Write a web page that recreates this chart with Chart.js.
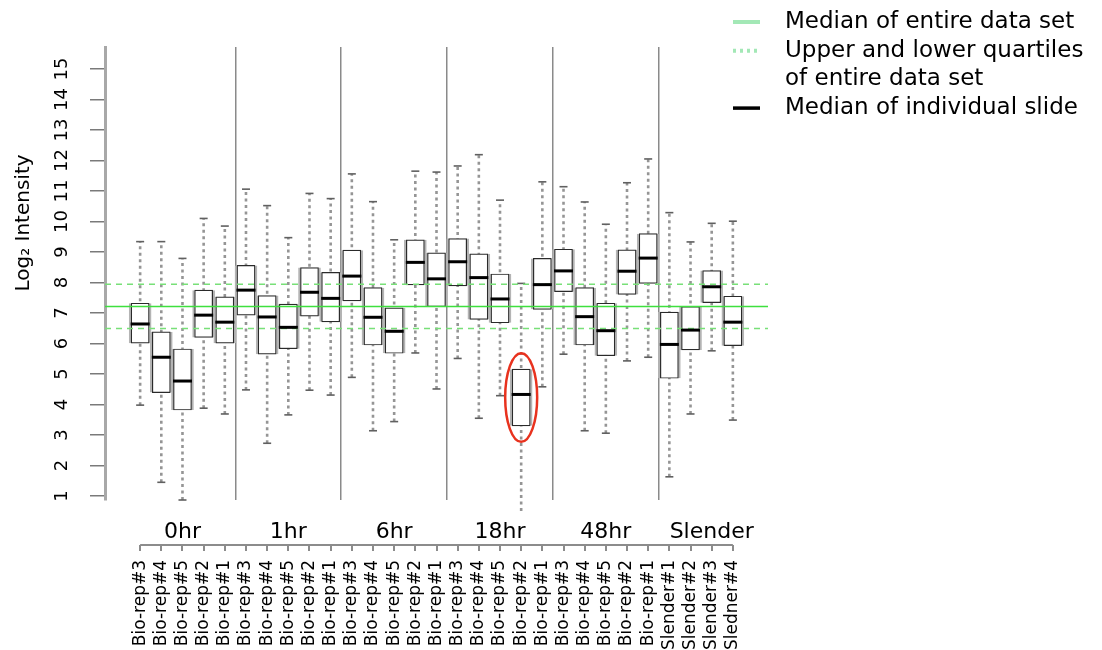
<!DOCTYPE html>
<html>
<head>
<meta charset="utf-8">
<title>Log2 intensity per slide</title>
<script src="https://cdn.jsdelivr.net/npm/chart.js@4.4.1/dist/chart.umd.min.js"></script>
<style>
  html, body { margin: 0; padding: 0; background: #fff; }
  #wrap { width: 1102px; height: 650px; }
</style>
</head>
<body>
<div id="wrap"><canvas id="boxChart"></canvas></div>
<script>
const groups = ["0hr", "1hr", "6hr", "18hr", "48hr", "Slender"];
const groupSizes = [5, 5, 5, 5, 5, 4];

const slides = [
  "Bio-rep#3", "Bio-rep#4", "Bio-rep#5", "Bio-rep#2", "Bio-rep#1",
  "Bio-rep#3", "Bio-rep#4", "Bio-rep#5", "Bio-rep#2", "Bio-rep#1",
  "Bio-rep#3", "Bio-rep#4", "Bio-rep#5", "Bio-rep#2", "Bio-rep#1",
  "Bio-rep#3", "Bio-rep#4", "Bio-rep#5", "Bio-rep#2", "Bio-rep#1",
  "Bio-rep#3", "Bio-rep#4", "Bio-rep#5", "Bio-rep#2", "Bio-rep#1",
  "Slender#1", "Slender#2", "Slender#3", "Sledner#4",
];

// five-number summary of each slide (log2 intensity)
const whiskerLow = [3.98, 1.45, 0.87, 3.88, 3.69, 4.48, 2.73, 3.66, 4.47, 4.31,
  4.89, 3.14, 3.44, 5.69, 4.51, 5.51, 3.55, 4.29, 0.51, 4.58,
  5.65, 3.14, 3.06, 5.43, 5.55, 1.63, 3.69, 5.76, 3.49];
const lowerQuartile = [6.01, 4.39, 3.82, 6.20, 6.01, 6.93, 5.65, 5.83, 6.90, 6.71,
  7.40, 5.95, 5.68, 7.92, 7.21, 7.89, 6.79, 6.68, 3.30, 7.12,
  7.70, 5.95, 5.60, 7.61, 7.97, 4.86, 5.79, 7.34, 5.93];
const medians = [6.64, 5.55, 4.77, 6.93, 6.70, 7.75, 6.87, 6.53, 7.68, 7.48,
  8.21, 6.86, 6.40, 8.66, 8.12, 8.68, 8.16, 7.46, 4.33, 7.93,
  8.38, 6.88, 6.42, 8.37, 8.80, 5.97, 6.44, 7.86, 6.70];
const upperQuartile = [7.32, 6.38, 5.82, 7.75, 7.53, 8.56, 7.57, 7.29, 8.49, 8.33,
  9.06, 7.83, 7.17, 9.40, 8.97, 9.44, 8.94, 8.28, 5.16, 8.79,
  9.09, 7.83, 7.32, 9.07, 9.60, 7.03, 7.21, 8.39, 7.55];
const whiskerHigh = [9.34, 9.34, 8.79, 10.10, 9.85, 11.06, 10.52, 9.47, 10.92, 10.75,
  11.56, 10.65, 9.40, 11.65, 11.62, 11.82, 12.19, 10.70, 7.97, 11.30,
  11.14, 10.64, 9.91, 11.27, 12.05, 10.29, 9.33, 9.94, 10.01];

// whole data set
const overallMedian = 7.21;
const overallQuartiles = [6.49, 7.94];

const yTicks = [1, 2, 3, 4, 5, 6, 7, 8, 9, 10, 11, 12, 13, 14, 15];

// the outlier slide that gets ringed (18hr Bio-rep#2)
const circledSlide = 18;

// axis limits
const X_MIN = -1.66;
const X_MAX = slides.length - 1 + 1.66;
const Y_MIN = 0.87;
const Y_MAX = 15.72;

const groupStarts = groupSizes.map((n, g) =>
  groupSizes.slice(0, g).reduce((a, b) => a + b, 0)
);
const separators = groupStarts.slice(1).map((s) => s - 0.5);
// group names sit over the third slide of each group
const groupLabelAt = groupStarts.map((s) => s + 2);

const idx = slides.map((_, i) => i);

const whiskerPoints = [];
idx.forEach((i) => {
  whiskerPoints.push(
    { x: i, y: whiskerLow[i] },
    { x: i, y: whiskerHigh[i] },
    { x: i, y: null }
  );
});

const boxData = idx.map((i) => ({ x: i, y: [lowerQuartile[i], upperQuartile[i]] }));
const hLine = (v) => [{ x: X_MIN, y: v }, { x: X_MAX, y: v }];

const legendRows = [
  { text: "Median of entire data set", color: "#a3e8b6", width: 4, dash: [] },
  { text: "Upper and lower quartiles", color: "#a3e8b6", width: 4, dash: [3, 4] },
  { text: "of entire data set", color: null },
  { text: "Median of individual slide", color: "#000", width: 3.5, dash: [] },
];

const slideNotes = {
  id: "slideNotes",
  afterDatasetsDraw(chart) {
    const { ctx } = chart;
    const x = chart.scales.x;
    const y = chart.scales.y;
    const top = y.getPixelForValue(upperQuartile[circledSlide]);
    const bottom = y.getPixelForValue(lowerQuartile[circledSlide]);
    ctx.save();
    ctx.strokeStyle = "#e8321e";
    ctx.lineWidth = 2.5;
    ctx.beginPath();
    ctx.ellipse(x.getPixelForValue(circledSlide), (top + bottom) / 2,
      16, (bottom - top) / 2 + 16, 0, 0, Math.PI * 2);
    ctx.stroke();
    ctx.restore();
  },
  afterDraw(chart) {
    const { ctx } = chart;
    const xl = chart.scales.xl;
    const y = chart.scales.y;
    ctx.save();

    // slide axis only runs from first to last slide
    ctx.strokeStyle = "#8c8c8c";
    ctx.lineWidth = 2;
    ctx.beginPath();
    ctx.moveTo(xl.getPixelForValue(0), xl.top);
    ctx.lineTo(xl.getPixelForValue(slides.length - 1), xl.top);
    ctx.stroke();

    // y axis title
    ctx.fillStyle = "#000";
    ctx.font = "20px 'DejaVu Sans', Verdana, sans-serif";
    ctx.textAlign = "center";
    ctx.textBaseline = "middle";
    ctx.translate(24, y.getPixelForValue(9.95));
    ctx.rotate(-Math.PI / 2);
    ctx.fillText("Log\u2082 Intensity", 0, 0);
    ctx.setTransform(1, 0, 0, 1, 0, 0);

    // key, top right
    ctx.font = "23px 'DejaVu Sans', Verdana, sans-serif";
    ctx.textAlign = "left";
    legendRows.forEach((row, r) => {
      const ry = 22 + r * 28.7;
      if (row.color) {
        ctx.strokeStyle = row.color;
        ctx.lineWidth = row.width;
        ctx.setLineDash(row.dash);
        ctx.beginPath();
        ctx.moveTo(733, ry);
        ctx.lineTo(760, ry);
        ctx.stroke();
        ctx.setLineDash([]);
      }
      ctx.fillStyle = "#000";
      ctx.fillText(row.text, 785, ry);
    });
    ctx.restore();
  },
};

Chart.defaults.font.family = "'DejaVu Sans', Verdana, sans-serif";
Chart.defaults.color = "#000";

new Chart(document.getElementById("boxChart"), {
  type: "bar",
  data: {
    datasets: [
      {
        type: "line",
        label: "whiskers",
        data: whiskerPoints,
        borderColor: "#959595",
        borderWidth: 2.6,
        borderDash: [3, 3.5],
        spanGaps: false,
        pointStyle: "line",
        pointRadius: 4,
        pointBorderColor: "#606060",
        pointBorderWidth: 1.6,
        clip: false,
        order: 5,
      },
      {
        label: "box shade",
        data: boxData,
        backgroundColor: "rgba(0,0,0,0)",
        borderColor: "#b4b4b4",
        borderWidth: { left: 2, right: 2, top: 0, bottom: 0 },
        borderSkipped: false,
        barThickness: 22,
        grouped: false,
        order: 4,
      },
      {
        label: "boxes",
        data: boxData,
        backgroundColor: "#fff",
        borderColor: "#2a2a2a",
        borderWidth: 1.2,
        borderSkipped: false,
        barThickness: 18,
        grouped: false,
        order: 3,
      },
      {
        type: "line",
        label: "lower quartile",
        data: hLine(overallQuartiles[0]),
        borderColor: "#78e078",
        borderWidth: 1.5,
        borderDash: [6, 5],
        pointRadius: 0,
        order: 2,
      },
      {
        type: "line",
        label: "upper quartile",
        data: hLine(overallQuartiles[1]),
        borderColor: "#78e078",
        borderWidth: 1.5,
        borderDash: [6, 5],
        pointRadius: 0,
        order: 2,
      },
      {
        type: "line",
        label: "median",
        data: hLine(overallMedian),
        borderColor: "#3ee03e",
        borderWidth: 1.5,
        pointRadius: 0,
        order: 2,
      },
      {
        type: "line",
        label: "slide medians",
        data: idx.map((i) => ({ x: i, y: medians[i] })),
        showLine: false,
        pointStyle: "line",
        pointRadius: 9.5,
        pointBorderWidth: 3,
        pointBorderColor: "#000",
        order: 1,
      },
    ],
  },
  options: {
    responsive: true,
    maintainAspectRatio: false,
    devicePixelRatio: 1,
    animation: false,
    events: [],
    layout: { padding: { left: 0, top: 47, right: 334, bottom: 0 } },
    plugins: {
      legend: { display: false },
      tooltip: { enabled: false },
    },
    scales: {
      x: {
        type: "linear",
        min: X_MIN,
        max: X_MAX,
        offset: false,
        weight: 0,
        grid: { offset: false, color: "#8a8a8a", lineWidth: 1.5, drawTicks: false },
        border: { display: false },
        ticks: { display: false },
        afterBuildTicks: (s) => { s.ticks = separators.map((v) => ({ value: v })); },
        afterFit: (s) => { s.height = 0; },
      },
      xg: {
        type: "linear",
        position: "bottom",
        min: X_MIN,
        max: X_MAX,
        offset: false,
        weight: 1,
        grid: { display: false, drawTicks: false, offset: false },
        border: { display: false },
        ticks: {
          font: { size: 22 },
          color: "#000",
          padding: 19,
          autoSkip: false,
          maxRotation: 0,
          callback: (v, i) => groups[i],
        },
        afterBuildTicks: (s) => { s.ticks = groupLabelAt.map((v) => ({ value: v })); },
        afterFit: (s) => { s.height = 45; },
      },
      xl: {
        type: "linear",
        position: "bottom",
        min: X_MIN,
        max: X_MAX,
        offset: false,
        weight: 2,
        grid: {
          display: true,
          drawOnChartArea: false,
          drawTicks: true,
          tickLength: 6,
          color: "#8c8c8c",
          lineWidth: 2,
          offset: false,
        },
        border: { display: false },
        ticks: {
          font: { size: 17 },
          color: "#000",
          padding: 9,
          autoSkip: false,
          minRotation: 90,
          maxRotation: 90,
          callback: (v, i) => slides[i],
        },
        afterBuildTicks: (s) => { s.ticks = idx.map((v) => ({ value: v })); },
        afterFit: (s) => { s.height = 105; },
      },
      y: {
        type: "linear",
        min: Y_MIN,
        max: Y_MAX,
        beginAtZero: false,
        grid: {
          drawOnChartArea: false,
          drawTicks: true,
          tickLength: 15,
          color: "#7a7a7a",
          lineWidth: 1.5,
        },
        border: { display: true, color: "#a8a8a8", width: 3 },
        ticks: {
          font: { size: 18 },
          color: "#000",
          padding: 16,
          crossAlign: "center",
          minRotation: 90,
          maxRotation: 90,
          autoSkip: false,
        },
        afterBuildTicks: (s) => { s.ticks = yTicks.map((v) => ({ value: v })); },
        afterFit: (s) => { s.width = 105; },
      },
    },
  },
  plugins: [slideNotes],
});
</script>
</body>
</html>
